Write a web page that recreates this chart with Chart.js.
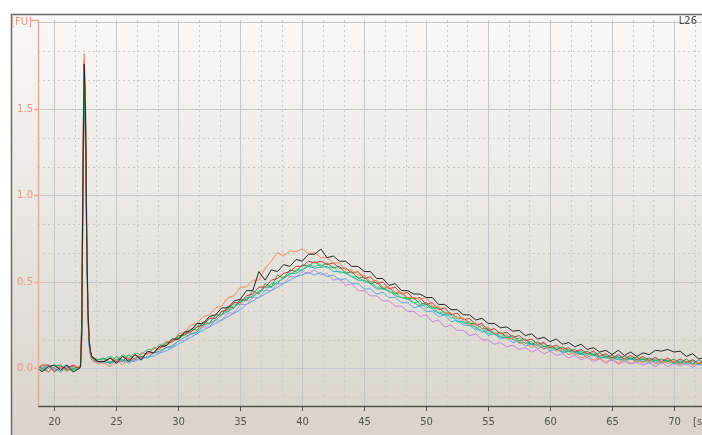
<!DOCTYPE html>
<html>
<head>
<meta charset="utf-8">
<script src="https://cdn.jsdelivr.net/npm/chart.js@4.4.1/dist/chart.umd.min.js"></script>
<style>
html, body { margin: 0; padding: 0; background: #fff; }
canvas { display: block; }
</style>
</head>
<body>
<canvas id="trace" width="702" height="435"></canvas>
<script>
// Electropherogram traces, time in seconds, fluorescence in FU

const times = [
  18.5, 19, 19.5, 20, 20.5, 21, 21.5,
  22, 22.1, 22.2, 22.3, 22.4, 22.5, 22.6, 22.7, 22.8, 22.9, 23, 23.2, 23.5,
  24, 24.5, 25, 25.5, 26, 26.5, 27, 27.5, 28, 28.5,
  29, 29.5, 30, 30.5, 31, 31.5, 32, 32.5, 33, 33.5,
  34, 34.5, 35, 35.5, 36, 36.5, 37, 37.5, 38, 38.5,
  39, 39.5, 40, 40.5, 41, 41.5, 42, 42.5, 43, 43.5,
  44, 44.5, 45, 45.5, 46, 46.5, 47, 47.5, 48, 48.5,
  49, 49.5, 50, 50.5, 51, 51.5, 52, 52.5, 53, 53.5,
  54, 54.5, 55, 55.5, 56, 56.5, 57, 57.5, 58, 58.5,
  59, 59.5, 60, 60.5, 61, 61.5, 62, 62.5, 63, 63.5,
  64, 64.5, 65, 65.5, 66, 66.5, 67, 67.5, 68, 68.5,
  69, 69.5, 70, 70.5, 71, 71.5, 72, 72.5
];

const blackFU = [
  0.01, -0.02, 0.01, 0.02, -0.01, 0.02, -0.02,
  0.00, 0.01, 0.22, 1.15, 1.76, 1.50, 0.78, 0.34, 0.16, 0.10, 0.07, 0.06, 0.04,
  .04, .06, .03, .07, .04, .08, .05, .10, .09, .13,
  .13, .17, .17, .21, .22, .26, .26, .30, .31, .35,
  .35, .39, .40, .45, .45, .56, .51, .57, .56, .60,
  .59, .63, .62, .66, .66, .69, .64, .65, .62, .62,
  .59, .59, .56, .56, .52, .52, .48, .49, .45, .45,
  .43, .43, .41, .41, .37, .37, .34, .34, .31, .31,
  .28, .29, .26, .26, .235, .24, .215, .22, .19, .20,
  .17, .18, .155, .17, .14, .15, .125, .14, .11, .12,
  .095, .105, .08, .105, .075, .095, .07, .09, .08, .105,
  .10, .11, .095, .10, .07, .085, .055, .065
];

const orangeFU = [
  0.00, 0.02, -0.02, 0.01, 0.01, -0.02, 0.01,
  0.01, 0.02, 0.30, 1.30, 1.82, 1.58, 0.85, 0.36, 0.16, 0.08, 0.05, 0.04, 0.03,
  .03, .01, .05, .02, .06, .05, .09, .08, .12, .11,
  .16, .15, .20, .21, .25, .26, .30, .31, .35, .36,
  .41, .42, .47, .47, .51, .51, .58, .62, .67, .65,
  .68, .675, .69, .665, .67, .64, .64, .61, .61, .57,
  .57, .54, .54, .50, .51, .47, .47, .44, .44, .41,
  .41, .40, .41, .36, .36, .32, .32, .29, .29, .25,
  .26, .23, .24, .20, .205, .17, .175, .145, .15, .12,
  .135, .11, .13, .10, .11, .08, .09, .06, .075, .05,
  .06, .035, .06, .03, .055, .03, .045, .035, .05, .025,
  .04, .03, .045, .02, .045, .02, .035, .02
];

const redFU = [
  -0.01, 0.02, 0.02, -0.02, 0.01, 0.00, 0.02,
  0.00, 0.02, 0.28, 1.25, 1.78, 1.55, 0.82, 0.35, 0.16, 0.10, 0.07, 0.05, 0.04,
  .04, .06, .04, .07, .05, .08, .06, .09, .09, .12,
  .13, .16, .17, .20, .21, .24, .25, .29, .29, .33,
  .34, .38, .38, .42, .43, .47, .47, .51, .52, .55,
  .56, .59, .59, .62, .61, .62, .60, .61, .58, .58,
  .55, .56, .52, .53, .49, .50, .46, .47, .43, .44,
  .40, .41, .37, .38, .34, .35, .31, .32, .28, .29,
  .25, .26, .22, .23, .20, .21, .18, .19, .16, .17,
  .14, .15, .12, .135, .11, .12, .095, .11, .085, .10,
  .07, .085, .06, .08, .055, .075, .05, .07, .045, .065,
  .04, .06, .035, .055, .035, .05, .03, .045
];

const greenFU = [
  0.02, 0.00, -0.02, 0.01, 0.02, -0.01, 0.00,
  0.01, 0.02, 0.20, 1.05, 1.70, 1.45, 0.76, 0.33, 0.16, 0.10, 0.07, 0.06, 0.05,
  .06, .03, .07, .04, .08, .05, .09, .08, .12, .11,
  .15, .15, .19, .19, .23, .22, .27, .26, .31, .31,
  .36, .35, .40, .39, .45, .43, .49, .47, .54, .52,
  .57, .56, .60, .59, .62, .59, .61, .58, .59, .55,
  .56, .52, .53, .49, .50, .46, .47, .43, .44, .40,
  .41, .37, .38, .35, .35, .32, .32, .29, .29, .26,
  .26, .23, .23, .20, .21, .18, .19, .16, .17, .14,
  .155, .125, .135, .11, .125, .10, .11, .085, .10, .075,
  .09, .065, .075, .06, .07, .055, .065, .05, .06, .045,
  .055, .04, .055, .03, .055, .025, .05, .03
];

const tealFU = [
  0.00, -0.01, 0.02, 0.00, -0.02, 0.01, 0.01,
  0.00, 0.01, 0.18, 1.00, 1.62, 1.40, 0.72, 0.30, 0.14, 0.09, 0.06, 0.05, 0.04,
  .04, .03, .05, .05, .04, .06, .07, .06, .09, .10,
  .12, .13, .16, .18, .20, .21, .25, .26, .28, .31,
  .33, .35, .39, .40, .42, .44, .47, .47, .50, .52,
  .55, .55, .57, .59, .58, .585, .59, .56, .56, .55,
  .53, .51, .51, .49, .46, .46, .45, .42, .41, .40,
  .38, .36, .37, .34, .32, .31, .31, .27, .27, .25,
  .24, .21, .22, .20, .18, .18, .17, .15, .15, .14,
  .135, .115, .125, .11, .095, .10, .095, .08, .085, .08,
  .065, .06, .065, .05, .05, .055, .045, .04, .05, .035,
  .04, .045, .035, .03, .04, .025, .03, .03
];

const blueFU = [
  0.01, 0.00, 0.02, -0.01, 0.00, 0.02, -0.01,
  0.01, 0.01, 0.16, 0.95, 1.55, 1.35, 0.68, 0.29, 0.13, 0.08, 0.05, 0.04, 0.04,
  .03, .04, .03, .05, .03, .05, .05, .07, .07, .09,
  .10, .12, .14, .16, .18, .20, .22, .24, .26, .28,
  .30, .32, .34, .37, .39, .41, .43, .45, .47, .49,
  .51, .53, .54, .555, .54, .555, .53, .54, .51, .52,
  .49, .49, .46, .46, .43, .44, .41, .41, .38, .38,
  .35, .36, .33, .33, .30, .31, .27, .28, .25, .25,
  .22, .23, .19, .20, .17, .18, .15, .16, .13, .14,
  .115, .13, .10, .115, .09, .10, .08, .09, .065, .08,
  .055, .07, .045, .065, .04, .06, .035, .055, .03, .05,
  .03, .045, .025, .04, .02, .04, .02, .035
];

const orchidFU = [
  0.00, 0.01, -0.02, 0.01, 0.00, -0.01, 0.02,
  0.00, 0.02, 0.19, 1.02, 1.60, 1.38, 0.70, 0.30, 0.13, 0.08, 0.05, 0.04, 0.03,
  .04, .03, .04, .04, .05, .04, .07, .06, .09, .09,
  .12, .12, .16, .16, .20, .20, .24, .24, .28, .28,
  .32, .32, .37, .37, .41, .41, .45, .45, .49, .49,
  .53, .53, .56, .55, .57, .54, .55, .51, .52, .48,
  .49, .45, .45, .42, .42, .39, .39, .36, .36, .33,
  .33, .30, .31, .27, .28, .24, .25, .22, .22, .19,
  .20, .165, .165, .14, .15, .125, .135, .11, .12, .095,
  .11, .085, .10, .075, .085, .06, .075, .05, .065, .04,
  .055, .03, .05, .025, .04, .025, .035, .02, .035, .01,
  .035, .01, .03, .015, .03, .005, .03, .01
];

const seaFU = [
  -0.01, 0.02, 0.00, 0.02, 0.01, -0.01, -0.01,
  0.00, 0.01, 0.24, 1.12, 1.68, 1.46, 0.76, 0.33, 0.16, 0.10, 0.07, 0.06, 0.05,
  .05, .07, .05, .08, .06, .09, .08, .11, .11, .14,
  .14, .17, .18, .21, .21, .25, .25, .29, .29, .33,
  .33, .37, .37, .41, .41, .45, .45, .49, .49, .53,
  .54, .57, .57, .60, .59, .60, .58, .59, .55, .56,
  .53, .53, .50, .50, .47, .47, .44, .44, .41, .41,
  .38, .39, .35, .36, .32, .33, .29, .30, .26, .27,
  .23, .25, .20, .21, .185, .195, .165, .175, .145, .155,
  .13, .145, .11, .125, .10, .11, .09, .10, .075, .09,
  .06, .075, .055, .07, .05, .065, .045, .06, .04, .055,
  .035, .05, .03, .045, .03, .045, .025, .04
];

const xLabels = [20, 25, 30, 35, 40, 45, 50, 55, 60, 65, 70];
const yLabels = ['0.0', '0.5', '1.0', '1.5'];

const traces = [
  { values: blackFU, color: '#262626' },
  { values: orangeFU, color: '#f08a5e' },
  { values: redFU, color: '#c8383a' },
  { values: greenFU, color: '#2f9e48' },
  { values: seaFU, color: '#44c98c' },
  { values: tealFU, color: '#1fb0a4' },
  { values: blueFU, color: '#5ba9e2' },
  { values: orchidFU, color: '#c884d8' }
];

const FONT = '10px "DejaVu Sans", sans-serif';
const FU_COLOR = '#e8957a';

// background, frame, grid and axes drawn around the chart area
const framePlugin = {
    id: 'frame',
    beforeDraw(chart) {
        const { ctx, width, height } = chart;
        ctx.save();
        ctx.fillStyle = '#ffffff';
        ctx.fillRect(0, 0, width, height);
        const g = ctx.createLinearGradient(0, 14, 0, height);
        g.addColorStop(0, '#faf9f7');
        g.addColorStop(1, '#d8d4cb');
        ctx.fillStyle = g;
        ctx.fillRect(11, 14, width - 11, height - 14);
        ctx.strokeStyle = '#6a6a6a';
        ctx.lineWidth = 1.5;
        ctx.beginPath();
        ctx.moveTo(11, 14.5);
        ctx.lineTo(width, 14.5);
        ctx.moveTo(11.5, 14);
        ctx.lineTo(11.5, height);
        ctx.stroke();
        ctx.restore();
    },
    beforeDatasetsDraw(chart) {
        const { ctx, chartArea: a, scales: { x, y } } = chart;
        ctx.save();
        ctx.lineWidth = 1;
        // minor dotted grid
        ctx.strokeStyle = '#cdcac3';
        ctx.setLineDash([2, 3]);
        ctx.beginPath();
        for (let n = -1; n <= 33; n++) {
            if (n % 3 === 0) continue;
            const v = 20 + n * 5 / 3;
            if (v <= x.min || v >= x.max) continue;
            const px = Math.round(x.getPixelForValue(v)) + 0.5;
            ctx.moveTo(px, a.top);
            ctx.lineTo(px, a.bottom);
        }
        for (let n = -1; n <= 12; n++) {
            if (n % 3 === 0) continue;
            const v = n / 6;
            if (v <= y.min || v >= y.max) continue;
            const py = Math.round(y.getPixelForValue(v)) + 0.5;
            ctx.moveTo(a.left, py);
            ctx.lineTo(a.right, py);
        }
        ctx.stroke();
        // major solid grid
        ctx.setLineDash([]);
        ctx.strokeStyle = '#c3c7ce';
        ctx.beginPath();
        for (let v = 20; v < x.max; v += 5) {
            const px = Math.round(x.getPixelForValue(v)) + 0.5;
            ctx.moveTo(px, a.top);
            ctx.lineTo(px, a.bottom);
        }
        for (let v = 0; v <= 2; v += 0.5) {
            const py = Math.round(y.getPixelForValue(v)) + 0.5;
            ctx.moveTo(a.left, py);
            ctx.lineTo(a.right, py);
        }
        ctx.stroke();
        ctx.restore();
    },
    afterDatasetsDraw(chart) {
        const { ctx, width, chartArea: a, scales: { x, y } } = chart;
        ctx.save();
        ctx.font = FONT;
        // x axis
        ctx.strokeStyle = '#55524c';
        ctx.lineWidth = 1.5;
        ctx.beginPath();
        ctx.moveTo(a.left, a.bottom + 0.5);
        ctx.lineTo(width, a.bottom + 0.5);
        ctx.stroke();
        ctx.lineWidth = 1;
        ctx.fillStyle = '#55524c';
        ctx.textAlign = 'center';
        ctx.textBaseline = 'middle';
        ctx.beginPath();
        xLabels.forEach(v => {
            const px = Math.round(x.getPixelForValue(v)) + 0.5;
            ctx.moveTo(px, a.bottom);
            ctx.lineTo(px, a.bottom + 5);
            ctx.fillText(String(v), px, a.bottom + 16);
        });
        ctx.stroke();
        ctx.textAlign = 'left';
        ctx.fillText('[s]', 693, a.bottom + 16);
        // y axis
        ctx.strokeStyle = '#f2a88e';
        ctx.lineWidth = 1.5;
        ctx.beginPath();
        ctx.moveTo(31, a.top + 0.5);
        ctx.lineTo(a.left + 0.5, a.top + 0.5);
        ctx.lineTo(a.left + 0.5, a.bottom);
        yLabels.forEach(s => {
            const py = Math.round(y.getPixelForValue(parseFloat(s))) + 0.5;
            ctx.moveTo(a.left - 4, py);
            ctx.lineTo(a.left, py);
        });
        ctx.stroke();
        ctx.fillStyle = FU_COLOR;
        ctx.textAlign = 'right';
        yLabels.forEach(s => {
            const py = Math.round(y.getPixelForValue(parseFloat(s))) + 0.5;
            ctx.fillText(s, a.left - 5, py);
        });
        ctx.textAlign = 'left';
        ctx.fillText('[FU]', 11, a.top + 2);
        ctx.fillStyle = '#4a4a4a';
        ctx.textAlign = 'right';
        ctx.fillText('L26', 697, a.top + 1);
        ctx.restore();
    }
};

new Chart(document.getElementById('trace'), {
    type: 'line',
    data: {
        datasets: traces.map(t => ({
            data: times.map((s, i) => ({ x: s, y: t.values[i] })),
            borderColor: t.color,
            borderWidth: 1,
            pointRadius: 0,
            tension: 0,
            fill: false
        }))
    },
    options: {
        responsive: false,
        animation: false,
        events: [],
        layout: { padding: { left: 38, top: 20, right: 0, bottom: 29 } },
        plugins: { legend: { display: false }, tooltip: { enabled: false } },
        scales: {
            x: { type: 'linear', min: 18.67, max: 72.26, display: false },
            y: { type: 'linear', min: -0.217, max: 2.014, display: false }
        }
    },
    plugins: [framePlugin]
});
</script>
</body>
</html>
